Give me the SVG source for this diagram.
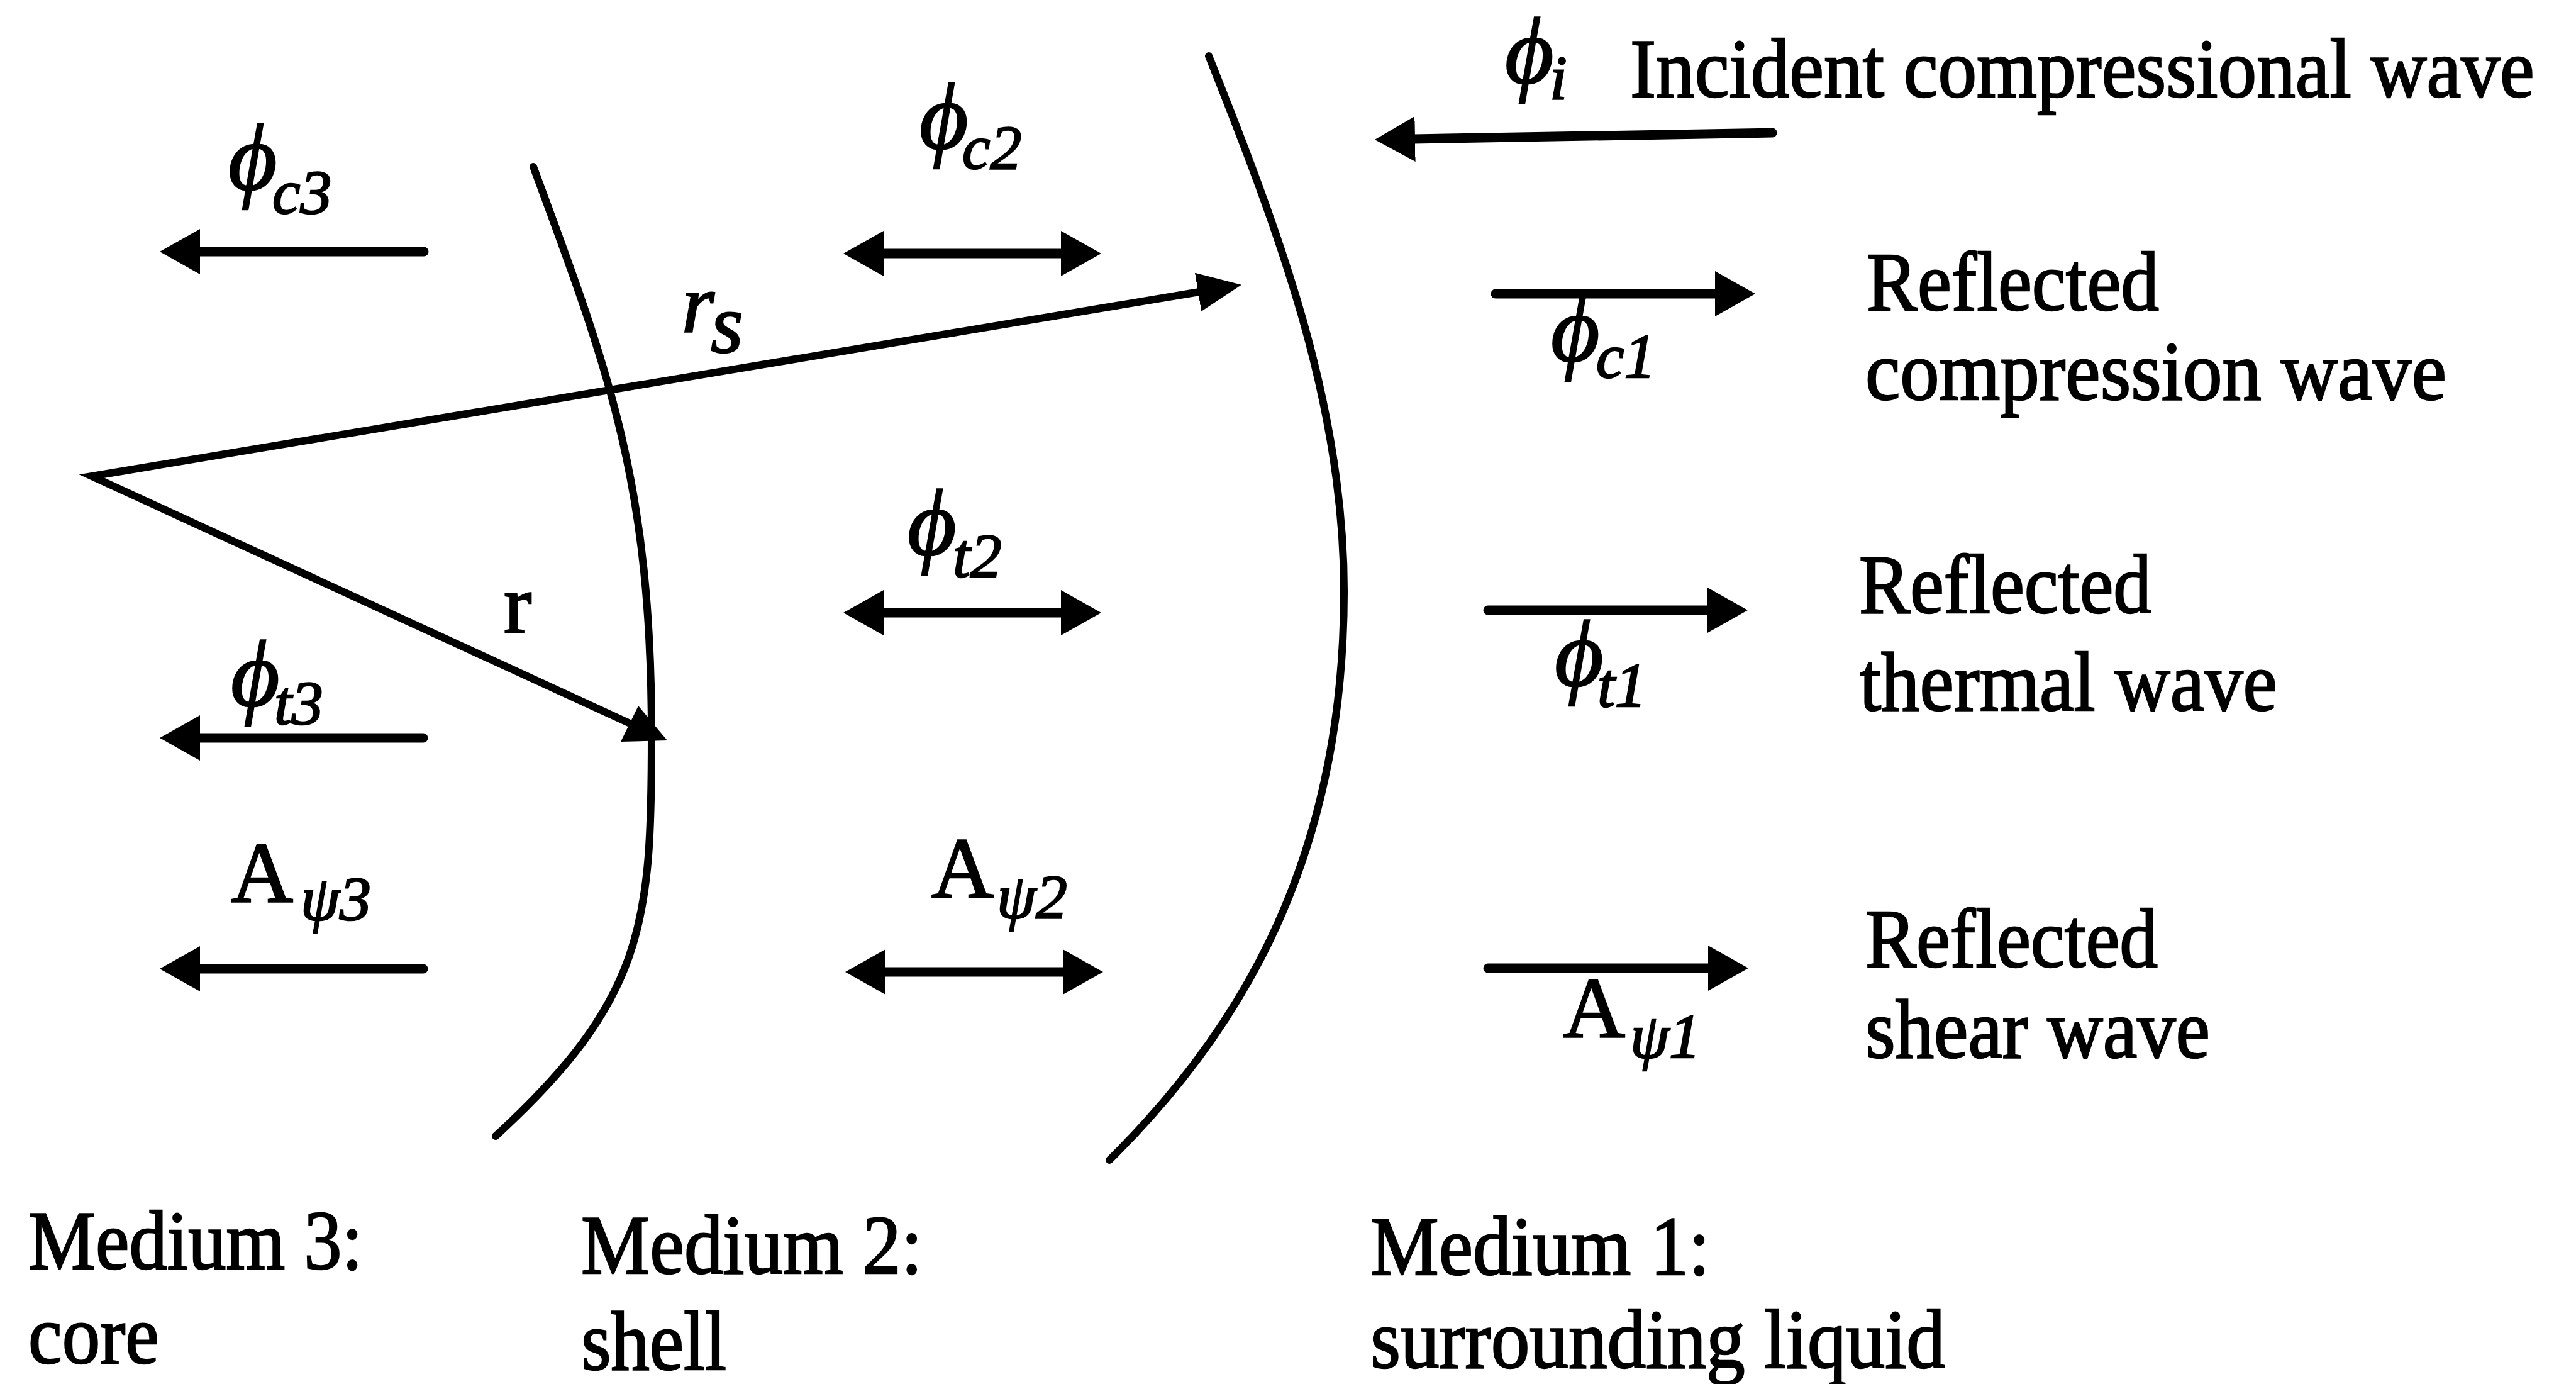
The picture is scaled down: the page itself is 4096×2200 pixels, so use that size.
<svg xmlns="http://www.w3.org/2000/svg" width="4096" height="2200" viewBox="0 0 4096 2200">
<style>
.t{font-family:"Liberation Serif","Times New Roman",serif;font-size:133px;fill:#000;stroke:#000;stroke-width:2.5}
.phi{font-family:"Liberation Serif","DejaVu Serif",serif;font-style:italic;font-size:150px}
.sub{font-family:"Liberation Serif","DejaVu Serif",serif;font-style:italic;font-size:100px}
.ln{fill:none;stroke:#000;stroke-width:12;stroke-linecap:round;stroke-linejoin:miter}
.wv{fill:none;stroke:#000;stroke-width:15;stroke-linecap:round}
</style>
<defs>
<marker id="ah" viewBox="0 0 64 72" refX="2" refY="36" markerWidth="64" markerHeight="72" markerUnits="userSpaceOnUse" orient="auto-start-reverse"><path d="M0,0 L64,36 L0,72 Z" fill="#000"/></marker>
<marker id="ahr" viewBox="0 0 70 62" refX="2" refY="31" markerWidth="70" markerHeight="62" markerUnits="userSpaceOnUse" orient="auto-start-reverse"><path d="M0,0 L70,31 L0,62 Z" fill="#000"/></marker>
</defs>
<rect width="4096" height="2200" fill="#fff"/>

<g id="boundary-inner">
<path class="ln" d="M848,265 C970,594 1036,770 1036,1170 C1036,1470 1025,1588 788,1806"/>
</g>
<g id="boundary-outer">
<path class="ln" d="M1922,89 C2033,368 2137,640 2137,940 C2137,1360 1977,1634 1764,1844"/>
</g>

<g id="connectors">
<path id="radius-rs" class="ln" d="M1907,464 L146,757 L1030,1163" stroke-width="10" marker-start="url(#ahr)"/>
<polygon id="radius-r-head" points="1015,1122 987,1179 1061,1177" fill="#000"/>
<line id="arrow-c3" class="wv" x1="674" y1="400" x2="316" y2="400" marker-end="url(#ah)"/>
<line id="arrow-t3" class="wv" x1="673" y1="1173" x2="316" y2="1173" marker-end="url(#ah)"/>
<line id="arrow-psi3" class="wv" x1="673" y1="1540" x2="316" y2="1540" marker-end="url(#ah)"/>
<line id="arrow-c2" class="wv" x1="1403" y1="403" x2="1689" y2="403" marker-start="url(#ah)" marker-end="url(#ah)"/>
<line id="arrow-t2" class="wv" x1="1403" y1="974" x2="1689" y2="974" marker-start="url(#ah)" marker-end="url(#ah)"/>
<line id="arrow-psi2" class="wv" x1="1406" y1="1545" x2="1692" y2="1545" marker-start="url(#ah)" marker-end="url(#ah)"/>
<line id="arrow-incident" class="wv" stroke-width="21" x1="2818" y1="211" x2="2248" y2="221" marker-end="url(#ah)"/>
<line id="arrow-c1" class="wv" x1="2378" y1="467" x2="2729" y2="467" marker-end="url(#ah)"/>
<line id="arrow-t1" class="wv" x1="2366" y1="970" x2="2717" y2="970" marker-end="url(#ah)"/>
<line id="arrow-psi1" class="wv" x1="2366" y1="1539" x2="2718" y2="1539" marker-end="url(#ah)"/>
</g>

<g id="label-rs"><text class="t" x="1084" y="528" font-style="italic" font-size="137">r</text><text class="t" x="1130" y="560" font-style="italic" font-size="90">s</text></g>
<g id="label-r"><text class="t" x="801" y="1005" font-size="140">r</text></g>

<g id="label-phi-c3"><text class="t"><tspan class="phi" x="363" y="301">ϕ</tspan><tspan class="sub" x="433" y="339">c3</tspan></text></g>
<g id="label-phi-c2"><text class="t"><tspan class="phi" x="1462" y="236">ϕ</tspan><tspan class="sub" x="1530" y="268">c2</tspan></text></g>
<g id="label-phi-i"><text class="t"><tspan class="phi" x="2393" y="132">ϕ</tspan><tspan class="sub" x="2464" y="157">i</tspan></text></g>
<g id="label-phi-c1"><text class="t"><tspan class="phi" x="2466" y="574">ϕ</tspan><tspan class="sub" x="2538" y="600">c1</tspan></text></g>
<g id="label-phi-t2"><text class="t"><tspan class="phi" x="1443" y="882">ϕ</tspan><tspan class="sub" x="1515" y="917">t2</tspan></text></g>
<g id="label-phi-t1"><text class="t"><tspan class="phi" x="2472" y="1090">ϕ</tspan><tspan class="sub" x="2540" y="1123">t1</tspan></text></g>
<g id="label-phi-t3"><text class="t"><tspan class="phi" x="367" y="1122">ϕ</tspan><tspan class="sub" x="436" y="1151">t3</tspan></text></g>
<g id="label-A-psi3"><text class="t"><tspan x="367" y="1433" font-size="137">A</tspan><tspan class="sub" x="478" y="1462">ψ3</tspan></text></g>
<g id="label-A-psi2"><text class="t"><tspan x="1481" y="1426" font-size="137">A</tspan><tspan class="sub" x="1585" y="1459">ψ2</tspan></text></g>
<g id="label-A-psi1"><text class="t"><tspan x="2485" y="1648" font-size="137">A</tspan><tspan class="sub" x="2592" y="1681">ψ1</tspan></text></g>

<g id="text-incident" transform="translate(2592,154) scale(0.927,1)"><text class="t" x="0" y="0">Incident compressional wave</text></g>
<g id="text-reflected-compression">
<text class="t" x="2968" y="493" textLength="465" lengthAdjust="spacingAndGlyphs">Reflected</text>
<text class="t" x="2966" y="635" textLength="924" lengthAdjust="spacingAndGlyphs">compression wave</text>
</g>
<g id="text-reflected-thermal">
<text class="t" x="2956" y="974" textLength="465" lengthAdjust="spacingAndGlyphs">Reflected</text>
<text class="t" x="2957" y="1129" textLength="664" lengthAdjust="spacingAndGlyphs">thermal wave</text>
</g>
<g id="text-reflected-shear">
<text class="t" x="2966" y="1537" textLength="465" lengthAdjust="spacingAndGlyphs">Reflected</text>
<text class="t" x="2966" y="1681" textLength="548" lengthAdjust="spacingAndGlyphs">shear wave</text>
</g>
<g id="text-medium3">
<text class="t" x="45" y="2017" textLength="532" lengthAdjust="spacingAndGlyphs">Medium 3:</text>
<text class="t" x="45" y="2167" textLength="208" lengthAdjust="spacingAndGlyphs">core</text>
</g>
<g id="text-medium2">
<text class="t" x="924" y="2024" textLength="543" lengthAdjust="spacingAndGlyphs">Medium 2:</text>
<text class="t" x="924" y="2177" textLength="231" lengthAdjust="spacingAndGlyphs">shell</text>
</g>
<g id="text-medium1">
<text class="t" x="2179" y="2026" textLength="540" lengthAdjust="spacingAndGlyphs">Medium 1:</text>
<text class="t" x="2179" y="2174" textLength="914" lengthAdjust="spacingAndGlyphs">surrounding liquid</text>
</g>
</svg>
